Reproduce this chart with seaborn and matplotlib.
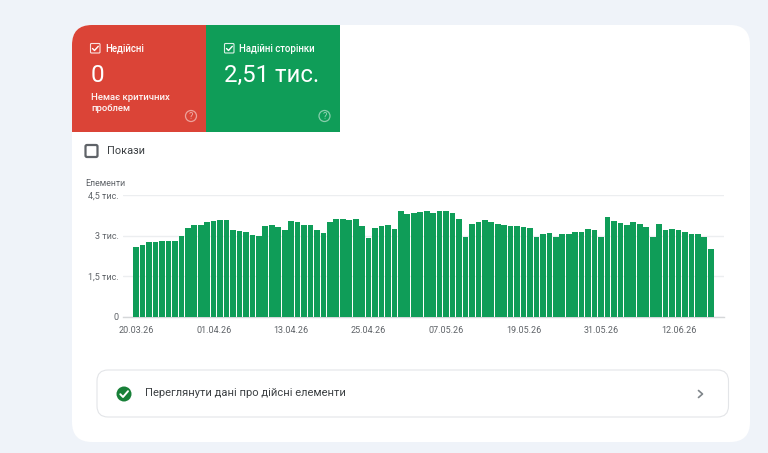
import matplotlib
matplotlib.use("Agg")
import matplotlib.pyplot as plt
from matplotlib.patches import FancyBboxPatch, Rectangle, Circle
from matplotlib.lines import Line2D
import pandas as pd
import seaborn as sns

# Daily count of reliable pages
page_counts = [
    2580, 2645, 2756, 2756, 2818, 2818, 2818, 3003, 3275, 3387,
    3411, 3498, 3560, 3584, 3584, 3214, 3189, 3139, 3028, 3003,
    3350, 3387, 3337, 3226, 3560, 3498, 3387, 3387, 3214, 3115,
    3523, 3634, 3609, 3572, 3634, 3362, 2917, 3300, 3362, 3411,
    3238, 3930, 3807, 3832, 3881, 3906, 3856, 3906, 3930, 3832,
    3634, 2966, 3436, 3510, 3572, 3498, 3436, 3411, 3362, 3362,
    3337, 3275, 2966, 3078, 3115, 2966, 3078, 3053, 3139, 3139,
    3238, 3214, 2966, 3683, 3560, 3461, 3387, 3523, 3436, 3337,
    2966, 3436, 3226, 3238, 3226, 3139, 3053, 3053, 2966, 2510,
]
day_labels = list(pd.date_range("2026-03-20", periods=len(page_counts)).strftime("%d.%m.%y"))
date_ticks = ["20.03.26", "01.04.26", "13.04.26", "25.04.26",
              "07.05.26", "19.05.26", "31.05.26", "12.06.26"]
value_ticks = [0, 1500, 3000, 4500]
value_tick_labels = ["0", "1,5 тис.", "3 тис.", "4,5 тис."]

W, H = 768, 453
PAGE_BG = "#eff3f9"
GREEN = "#0f9d58"
RED = "#db4437"
INK = "#3c4043"
MUTED = "#5f6368"
FONT = ["Roboto", "DejaVu Sans"]

sns.set_theme(style="white")
plt.rcParams["font.family"] = FONT

fig = plt.figure(figsize=(W / 100, H / 100), dpi=100, facecolor=PAGE_BG)

# Full-figure layer addressed in pixels, for the card and its controls
ui = fig.add_axes([0, 0, 1, 1], zorder=0)
ui.set_xlim(0, W)
ui.set_ylim(H, 0)
ui.axis("off")

card = FancyBboxPatch((72, 25), 678, 417, boxstyle="round,pad=0,rounding_size=20",
                      fc="white", ec="none")
ui.add_patch(card)

red_tile = Rectangle((72, 25), 134, 107, fc=RED, ec="none")
ui.add_patch(red_tile)
red_tile.set_clip_path(card)
ui.add_patch(Rectangle((206, 25), 134, 107, fc=GREEN, ec="none"))


def checkbox(x, y):
    ui.add_patch(FancyBboxPatch((x, y), 9.5, 9.5, boxstyle="round,pad=0,rounding_size=1",
                                fc="none", ec="white", lw=0.8, alpha=0.85))
    ui.add_line(Line2D([x + 2, x + 4, x + 7.8], [y + 5, y + 7, y + 2.8], color="white", lw=1.0))


def help_icon(x, y):
    ui.add_patch(Circle((x, y), 5.5, fc="none", ec="white", lw=0.9, alpha=0.5))
    ui.text(x, y + 0.3, "?", color="white", alpha=0.6, fontsize=6.5, ha="center", va="center")


checkbox(90.5, 43.5)
ui.text(105, 48.5, "Недійсні", color="white", fontsize=6.9, weight="medium", va="center")
ui.text(90.5, 75, "0", color="white", fontsize=17.5, va="center")
ui.text(91, 97, "Немає критичних", color="white", fontsize=6.8, weight="medium", va="center", alpha=0.95)
ui.text(91, 108.5, "проблем", color="white", fontsize=6.8, weight="medium", va="center", alpha=0.95)
help_icon(191, 116)

checkbox(224.5, 43.5)
ui.text(239, 48.5, "Надійні сторінки", color="white", fontsize=6.9, weight="medium", va="center")
ui.text(224, 75, "2,51 тис.", color="white", fontsize=17.2, va="center")
help_icon(324.5, 116)

# "Покази" toggle
ui.add_patch(FancyBboxPatch((85.5, 145), 12, 12, boxstyle="round,pad=0,rounding_size=1.5",
                            fc="white", ec="#5f6368", lw=1.6))
ui.text(107, 151.5, "Покази", color=INK, fontsize=7.9, va="center")
ui.text(85, 183, "Елементи", color=MUTED, fontsize=6.3, va="center")

# Link row under the chart
ui.add_patch(FancyBboxPatch((97, 370), 631.5, 47, boxstyle="round,pad=0,rounding_size=11",
                            fc="white", ec="#e3e5e8", lw=0.8))
ui.add_patch(Circle((124, 394), 7.5, fc="#188038", ec="none"))
ui.add_line(Line2D([120.3, 123, 128], [394.2, 397, 391.2], color="white", lw=1.4))
ui.text(145, 393.5, "Переглянути дані про дійсні елементи", color=INK, fontsize=8.0, va="center")
ui.add_line(Line2D([698.5, 702.5, 698.5], [390.5, 394, 397.5], color="#80868b", lw=1.2))

# Bar chart
left, right, top, bottom = 123, 724, 195.3, 316.7
ax = fig.add_axes([left / W, 1 - bottom / H, (right - left) / W, (bottom - top) / H], zorder=1)
ax.patch.set_alpha(0)
frame = pd.DataFrame({"day": day_labels, "pages": page_counts})
sns.barplot(data=frame, x="day", y="pages", color=GREEN, saturation=1, width=0.88,
            linewidth=0, ax=ax, zorder=3)
ax.set_xlim(-2.04, 91.05)
ax.set_ylim(0, 4500)
ax.set_xlabel("")
ax.set_ylabel("")
ax.set_yticks(value_ticks, value_tick_labels)
ax.set_xticks([day_labels.index(d) for d in date_ticks], date_ticks)
ax.tick_params(axis="both", length=0, labelsize=6.5, labelcolor=MUTED)
ax.tick_params(axis="x", pad=7)
ax.tick_params(axis="y", pad=3)
ax.grid(axis="y", color="#eceef0", lw=1.0, zorder=0)
ax.grid(axis="x", visible=False)
for side in ("top", "left", "right"):
    ax.spines[side].set_visible(False)
ax.spines["bottom"].set_color("#d5d7d9")
ax.spines["bottom"].set_linewidth(1.0)

fig.savefig("out.png", dpi=100, facecolor=PAGE_BG)
